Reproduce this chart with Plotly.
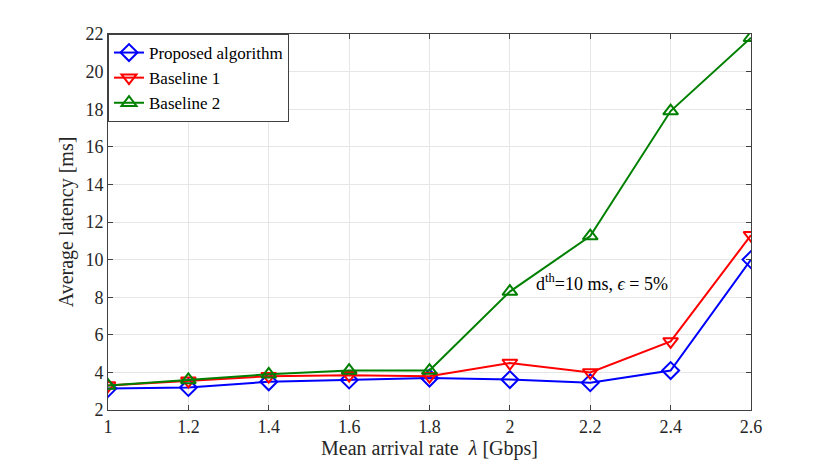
import plotly.graph_objects as go

x_vals = [1.0, 1.2, 1.4, 1.6, 1.8, 2.0, 2.2, 2.4, 2.6]
proposed = [3.15, 3.2, 3.5, 3.6, 3.7, 3.62, 3.45, 4.1, 10.0]
baseline1 = [3.3, 3.55, 3.8, 3.85, 3.8, 4.5, 4.0, 5.65, 11.3]
baseline2 = [3.3, 3.6, 3.9, 4.1, 4.1, 8.3, 11.25, 17.9, 21.8]

x_ticks = [1, 1.2, 1.4, 1.6, 1.8, 2, 2.2, 2.4, 2.6]
y_ticks = [2, 4, 6, 8, 10, 12, 14, 16, 18, 20, 22]

font = "Liberation Serif"

fig = go.Figure()
fig.add_trace(go.Scatter(x=x_vals, y=proposed, name="Proposed algorithm",
                         mode="lines+markers",
                         line=dict(color="#0000ff", width=2),
                         marker=dict(symbol="diamond-open", size=13, color="#0000ff", line=dict(width=2))))
fig.add_trace(go.Scatter(x=x_vals, y=baseline1, name="Baseline 1",
                         mode="lines+markers",
                         line=dict(color="#ff0000", width=2),
                         marker=dict(symbol="triangle-down-open", size=13, color="#ff0000", line=dict(width=2))))
fig.add_trace(go.Scatter(x=x_vals, y=baseline2, name="Baseline 2",
                         mode="lines+markers",
                         line=dict(color="#008000", width=2),
                         marker=dict(symbol="triangle-up-open", size=13, color="#008000", line=dict(width=2))))

fig.add_annotation(x=2.23, y=8.8, xref="x", yref="y",
                   text="d<sup>th</sup>=10 ms, <i>ϵ</i> = 5%", showarrow=False,
                   font=dict(family=font, size=18, color="black"))

axis_common = dict(showgrid=True, gridcolor="#e6e6e6", gridwidth=1,
                   showline=True, linecolor="#404040", linewidth=1, mirror="ticks",
                   ticks="inside", ticklen=5, tickcolor="#404040",
                   tickfont=dict(family=font, size=18, color="#262626"),
                   zeroline=False)

fig.update_layout(
    width=830, height=464,
    paper_bgcolor="white", plot_bgcolor="white",
    margin=dict(l=100, r=87, t=26, b=62),
    font=dict(family=font, color="#262626"),
    xaxis=dict(range=[1, 2.6], tickvals=x_ticks, ticktext=[str(t) for t in x_ticks],
               title=dict(text="Mean arrival rate  <i>λ</i> [Gbps]", font=dict(family=font, size=20, color="#262626"), standoff=2),
               **axis_common),
    yaxis=dict(range=[2, 22], tickvals=y_ticks,
               title=dict(text="Average latency [ms]", font=dict(family=font, size=20, color="#262626"), standoff=6),
               **axis_common),
    legend=dict(x=0, y=1, xanchor="left", yanchor="top",
                bgcolor="white", bordercolor="#404040", borderwidth=1,
                font=dict(family=font, size=17, color="black"),
                tracegroupgap=0, itemwidth=30),
    showlegend=True,
)

fig.write_html("out.html")
